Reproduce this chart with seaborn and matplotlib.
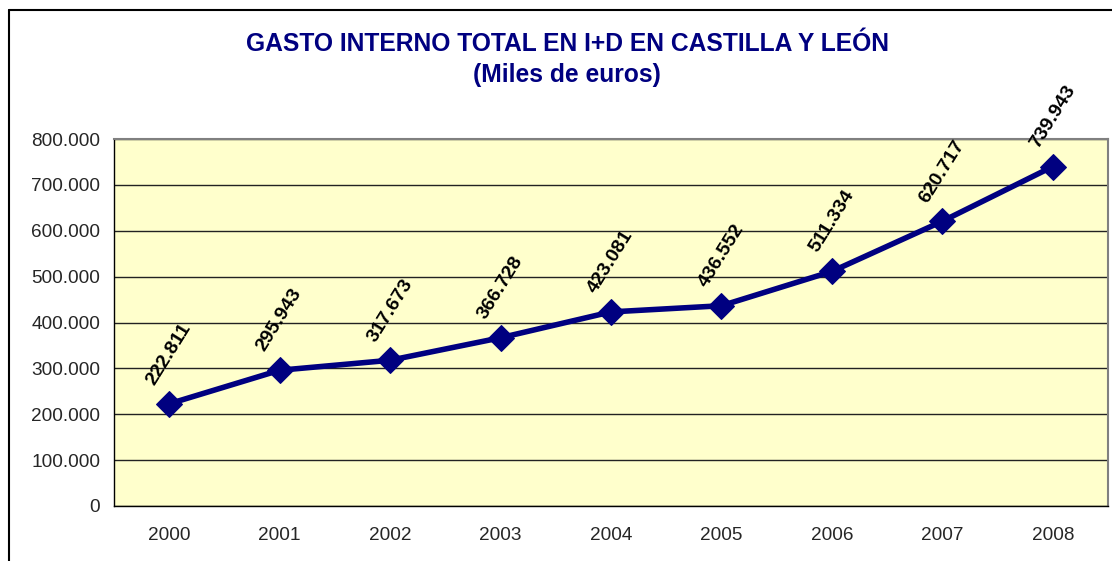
import seaborn as sns
import matplotlib.pyplot as plt
import matplotlib.ticker as mticker
import numpy as np
import pandas as pd

anios = [2000, 2001, 2002, 2003, 2004, 2005, 2006, 2007, 2008]
gasto = [222811, 295943, 317673, 366728, 423081, 436552, 511334, 620717, 739943]
titulo = "GASTO INTERNO TOTAL EN I+D EN CASTILLA Y LEÓN"
subtitulo = "(Miles de euros)"

dane = pd.DataFrame({"anio": anios, "gasto": gasto})


def miles(v, pos=None):
    return f"{int(v):,}".replace(",", ".")


sns.set_style("white")
plt.rcParams["font.family"] = ["Liberation Sans", "DejaVu Sans"]

fig = plt.figure(figsize=(11.12, 5.61), dpi=100)
ax = fig.add_axes([114 / 1112, 1 - 506 / 561, 994 / 1112, 367 / 561])
ax.set_facecolor("#FFFFCC")

sns.lineplot(data=dane, x="anio", y="gasto", ax=ax, color="#000080",
             linewidth=4, marker="D", markersize=13,
             markeredgecolor="#000080", zorder=3)

for a, g in zip(anios, gasto):
    ax.annotate(miles(g), (a, g), xytext=(0, 36), textcoords="offset points",
                ha="center", va="center", rotation=58, rotation_mode="anchor",
                fontsize=14, fontweight="bold", color="black",
                annotation_clip=False, zorder=4)

ax.set_xlim(anios[0] - 0.5, anios[-1] + 0.5)
ax.set_ylim(0, 800000)
ax.set_xticks(anios)
ax.set_xticks(np.arange(anios[0] - 0.5, anios[-1] + 1), minor=True)
ax.set_yticks(np.arange(0, 800001, 100000))
ax.yaxis.set_major_formatter(mticker.FuncFormatter(miles))
ax.xaxis.set_major_formatter(mticker.FuncFormatter(lambda v, p: str(int(v))))
ax.tick_params(axis="x", which="major", length=0, pad=15, labelsize=13.7)
ax.tick_params(axis="x", which="minor", length=6, width=1, color="black",
               direction="out")
ax.tick_params(axis="y", length=6, width=1, color="black", direction="out",
               pad=4, labelsize=13.7)
ax.grid(axis="y", color="#222222", linewidth=1)
ax.set_axisbelow(True)
ax.set_xlabel("")
ax.set_ylabel("")
for s in ["top", "right"]:
    ax.spines[s].set_color("#808080")
    ax.spines[s].set_linewidth(1.5)
for s in ["left", "bottom"]:
    ax.spines[s].set_color("black")
    ax.spines[s].set_linewidth(1)

fig.text(567 / 1112, 1 - 44 / 561, titulo, ha="center", va="center",
         fontsize=17.7, fontweight="bold", color="#000080")
fig.text(567 / 1112, 1 - 75 / 561, subtitulo, ha="center", va="center",
         fontsize=17.7, fontweight="bold", color="#000080")

# ramka wykresu (lewa i górna krawędź)
fig.add_artist(plt.Line2D([9 / 1112, 9 / 1112], [0, 1 - 10 / 561],
                          color="black", linewidth=1.5))
fig.add_artist(plt.Line2D([9 / 1112, 1], [1 - 10 / 561, 1 - 10 / 561],
                          color="black", linewidth=1.5))

plt.savefig("out.png", dpi=100)
